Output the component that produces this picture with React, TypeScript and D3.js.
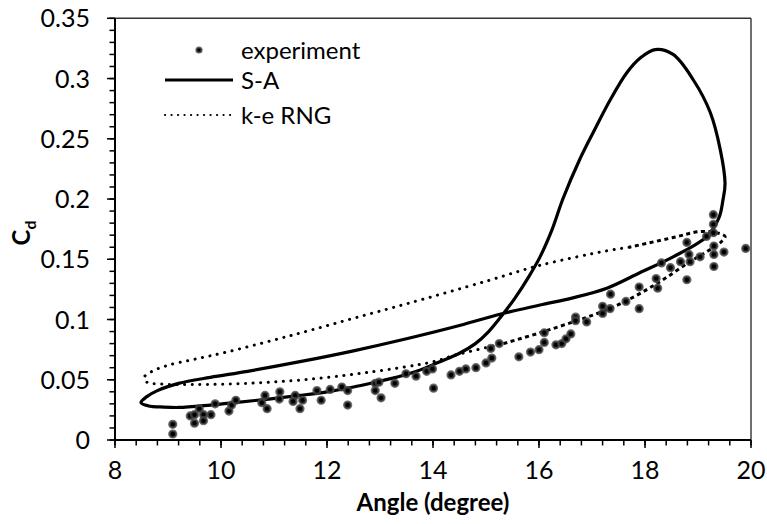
import React from "react";
import * as d3 from "d3";

const W = 767;
const H = 524;

// x ticks / y ticks
const xTicks = [8, 10, 12, 14, 16, 18, 20];
const yTicks = [0, 0.05, 0.1, 0.15, 0.2, 0.25, 0.3, 0.35];
const yTickLabels = ["0", "0.05", "0.1", "0.15", "0.2", "0.25", "0.3", "0.35"];

// experiment
const expAngle = [9.09, 9.09, 9.42, 9.5, 9.5, 9.59, 9.67, 9.67, 9.81, 9.89, 10.15, 10.2, 10.28, 10.77, 10.83, 10.87, 11.11, 11.1, 11.4, 11.36, 11.49, 11.54, 11.81, 11.89, 12.06, 12.28, 12.39, 12.39, 12.91, 12.98, 12.91, 13.02, 13.28, 13.49, 13.68, 13.88, 13.99, 14.01, 14.34, 14.5, 14.62, 14.81, 15.0, 15.11, 15.09, 15.25, 15.62, 15.84, 16.0, 16.1, 16.1, 16.32, 16.43, 16.51, 16.6, 16.69, 16.69, 16.9, 17.2, 17.2, 17.34, 17.35, 17.64, 17.89, 17.89, 18.21, 18.24, 18.31, 18.48, 18.67, 18.79, 18.79, 18.83, 18.85, 19.04, 19.16, 19.29, 19.29, 19.29, 19.3, 19.3, 19.3, 19.49, 19.9];
const expCd = [0.013, 0.005, 0.02, 0.021, 0.014, 0.026, 0.021, 0.016, 0.021, 0.03, 0.024, 0.029, 0.033, 0.031, 0.037, 0.026, 0.04, 0.034, 0.037, 0.032, 0.026, 0.033, 0.041, 0.033, 0.042, 0.044, 0.041, 0.029, 0.047, 0.048, 0.041, 0.035, 0.047, 0.055, 0.053, 0.057, 0.059, 0.043, 0.054, 0.057, 0.059, 0.06, 0.064, 0.068, 0.076, 0.08, 0.069, 0.073, 0.075, 0.081, 0.089, 0.079, 0.08, 0.084, 0.088, 0.102, 0.099, 0.098, 0.111, 0.105, 0.109, 0.121, 0.115, 0.109, 0.127, 0.134, 0.126, 0.147, 0.143, 0.148, 0.164, 0.133, 0.154, 0.148, 0.152, 0.169, 0.187, 0.179, 0.172, 0.161, 0.154, 0.144, 0.156, 0.159];

// S-A closed loop (lower branch -> peak -> upper branch back)
const saAngle = [8.49, 8.66, 8.85, 9.2, 9.8, 10.26, 10.9, 11.49, 12.0, 12.5, 12.91, 13.3, 13.69, 14.13, 14.5, 14.8, 15.05, 15.33, 15.55, 15.8, 16.02, 16.25, 16.45, 16.77, 17.02, 17.34, 17.66, 17.91, 18.19, 18.53, 18.91, 19.23, 19.42, 19.51, 19.47, 19.4, 19.17, 18.53, 17.91, 17.28, 16.64, 16.02, 15.32, 14.5, 13.5, 12.5, 11.49, 10.5, 9.8, 9.2, 8.8, 8.6];
const saCd = [0.031, 0.028, 0.0275, 0.027, 0.029, 0.031, 0.034, 0.037, 0.04, 0.044, 0.048, 0.052, 0.057, 0.065, 0.072, 0.08, 0.09, 0.105, 0.118, 0.135, 0.152, 0.175, 0.2, 0.233, 0.255, 0.282, 0.305, 0.317, 0.324, 0.32, 0.299, 0.272, 0.241, 0.213, 0.199, 0.185, 0.169, 0.152, 0.139, 0.126, 0.118, 0.112, 0.105, 0.095, 0.084, 0.074, 0.065, 0.057, 0.052, 0.047, 0.041, 0.036];

// k-e RNG loop, dotted part
const keDotAngle = [17.7, 17.28, 16.02, 15.02, 13.5, 12.5, 11.68, 11.0, 10.11, 9.5, 9.0, 8.7, 8.55, 8.6, 8.85, 9.5, 10.5, 11.55, 12.75, 14.01, 14.38, 15.33];
const keDotCd = [0.16, 0.157, 0.145, 0.132, 0.113, 0.101, 0.091, 0.083, 0.073, 0.067, 0.062, 0.057, 0.052, 0.048, 0.0465, 0.046, 0.047, 0.05, 0.056, 0.065, 0.07, 0.08];
// k-e RNG loop, dashed-looking part
const keDashAngle = [15.33, 16.02, 16.64, 17.1, 17.58, 18.23, 18.85, 19.3, 19.45, 19.51, 19.35, 19.04, 18.53, 17.7];
const keDashCd = [0.08, 0.089, 0.098, 0.105, 0.114, 0.13, 0.148, 0.16, 0.165, 0.169, 0.172, 0.173, 0.168, 0.16];

const FONT = "Lato, 'Open Sans', sans-serif";

export default function App() {
  const x = d3.scaleLinear().domain([8, 20]).range([115, 751]);
  const y = d3.scaleLinear().domain([0, 0.35]).range([440, 18.3]);

  const toPts = (a: number[], b: number[]) => a.map((v, i) => [v, b[i]] as [number, number]);

  const closedLine = d3
    .line<[number, number]>()
    .x((d) => x(d[0]))
    .y((d) => y(d[1]))
    .curve(d3.curveCatmullRomClosed.alpha(0.5));
  const openLine = d3
    .line<[number, number]>()
    .x((d) => x(d[0]))
    .y((d) => y(d[1]))
    .curve(d3.curveCatmullRom.alpha(0.5));

  const xMinor = d3.range(8, 20.001, 0.4);
  const yMinor = d3.range(0, 0.3501, 0.01);

  const expPts = toPts(expAngle, expCd);

  return (
    <svg width={W} height={H} style={{ position: "absolute", left: 0, top: 0, background: "#fff" }} fontFamily={FONT}>
      {/* frame top/right */}
      <line x1={115} x2={751} y1={18.3} y2={18.3} stroke="#333" strokeWidth={1.4} />
      <line x1={751} x2={751} y1={18.3} y2={440} stroke="#333" strokeWidth={1.4} />

      {/* curves */}
      <path d={closedLine(toPts(saAngle, saCd)) || ""} fill="none" stroke="#000" strokeWidth={3.2} />
      <path d={openLine(toPts(keDotAngle, keDotCd)) || ""} fill="none" stroke="#000" strokeWidth={3} strokeDasharray="0.1 7.5" strokeLinecap="round" />
      <path d={openLine(toPts(keDashAngle, keDashCd)) || ""} fill="none" stroke="#000" strokeWidth={3} strokeDasharray="4 3.5" />

      {/* experiment markers */}
      {expPts.map((d, i) => (
        <circle key={i} cx={x(d[0])} cy={y(d[1])} r={3.4} fill="#000" stroke="rgba(70,70,70,0.8)" strokeWidth={2.4} />
      ))}

      {/* axes */}
      <line x1={115} x2={115} y1={18.3} y2={440} stroke="#000" strokeWidth={2} />
      <line x1={115} x2={751} y1={440} y2={440} stroke="#000" strokeWidth={2} />
      {xMinor.map((v, i) => (
        <line key={"xm" + i} x1={x(v)} x2={x(v)} y1={440} y2={445.5} stroke="#000" strokeWidth={1.5} />
      ))}
      {xTicks.map((v) => (
        <line key={"xt" + v} x1={x(v)} x2={x(v)} y1={440} y2={448} stroke="#000" strokeWidth={1.5} />
      ))}
      {yMinor.map((v, i) => (
        <line key={"ym" + i} x1={109.5} x2={115} y1={y(v)} y2={y(v)} stroke="#000" strokeWidth={1.5} />
      ))}
      {yTicks.map((v) => (
        <line key={"yt" + v} x1={107} x2={115} y1={y(v)} y2={y(v)} stroke="#000" strokeWidth={1.5} />
      ))}

      {/* tick labels */}
      {xTicks.map((v) => (
        <text key={"xl" + v} x={x(v)} y={479} textAnchor="middle" fontSize={25} fill="#000">
          {v}
        </text>
      ))}
      {yTicks.map((v, i) => (
        <text key={"yl" + v} x={90} y={y(v)} dy="0.36em" textAnchor="end" fontSize={25} fill="#000">
          {yTickLabels[i]}
        </text>
      ))}

      {/* axis titles */}
      <text x={433} y={511} textAnchor="middle" fontSize={24} fontWeight="bold" fill="#000">
        Angle (degree)
      </text>
      <text transform="translate(30,233) rotate(-90)" textAnchor="middle" fontSize={24} fontWeight="bold" fill="#000">
        C<tspan fontSize={16} dy="6">d</tspan>
      </text>

      {/* legend */}
      <circle cx={199} cy={50} r={2.6} fill="#000" stroke="rgba(70,70,70,0.8)" strokeWidth={2} />
      <text x={241} y={50} dy="0.36em" fontSize={24} fill="#000">experiment</text>
      <line x1={165} x2={233} y1={80} y2={80} stroke="#000" strokeWidth={3.2} />
      <text x={241} y={80} dy="0.36em" fontSize={24} fill="#000">S-A</text>
      <line x1={165} x2={233} y1={115} y2={115} stroke="#000" strokeWidth={2.2} strokeDasharray="0.1 6.4" strokeLinecap="round" />
      <text x={241} y={115} dy="0.36em" fontSize={24} fill="#000">k-e RNG</text>
    </svg>
  );
}
